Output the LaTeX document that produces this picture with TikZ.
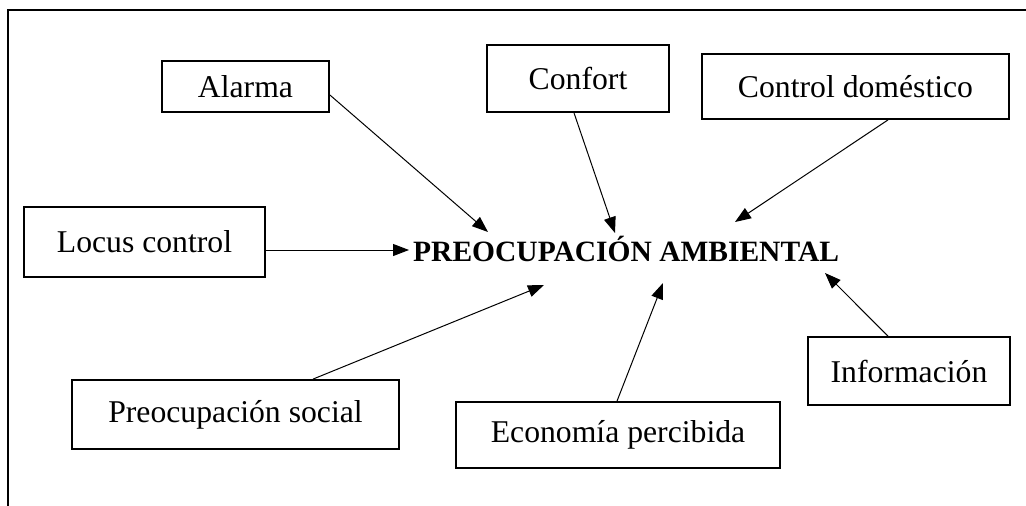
\documentclass[tikz,border=0pt]{standalone}
\usepackage{fontspec}
\setmainfont{Liberation Serif}
\usetikzlibrary{arrows.meta}
\begin{document}
\begin{tikzpicture}[x=1pt,y=-1pt,
  box/.style={draw=black,line width=1.8pt,inner sep=0pt,font=\fontsize{31.7}{38}\selectfont},
  conn/.style={line width=1pt,-{Triangle[length=16pt,width=12pt]}},
  frame/.style={line width=2pt}]
\useasboundingbox (0,0) rectangle (1026,506);
\draw[frame] (8,506) -- (8,10) -- (1026,10);
\node[box,minimum width=167pt,minimum height=51pt] (alarma) at (245.5,86.5) {Alarma};
\node[box,minimum width=182pt,minimum height=67pt] (confort) at (578,78.5) {Confort};
\node[box,minimum width=307pt,minimum height=65pt] (domestico) at (855.5,86.5) {Control doméstico};
\node[box,minimum width=241pt,minimum height=70pt] (locus) at (144.5,242) {Locus control};
\node[box,minimum width=327pt,minimum height=69pt] (social) at (235.5,414.5) {Preocupación social};
\node[box,minimum width=324pt,minimum height=66pt] (economia) at (618,435) {Economía percibida};
\node[box,minimum width=202pt,minimum height=68pt] (informacion) at (909,371) {Información};
\node[anchor=base west,inner sep=0pt,font=\fontsize{29.5}{35}\selectfont\bfseries] (central) at (413,261) {PREOCUPACIÓN AMBIENTAL};
\coordinate (tA) at (488,232);
\coordinate (tC) at (615,233);
\coordinate (tD) at (735,222);
\coordinate (tL) at (409,250);
\coordinate (tS) at (544,285);
\coordinate (tE) at (663,283);
\coordinate (tI) at (825,273);
\draw[conn] ([yshift=-8.5pt]alarma.east) -- (tA);
\draw[conn] ([xshift=-4pt]confort.south) -- (tC);
\draw[conn] ([xshift=32.5pt]domestico.south) -- (tD);
\draw[conn] ([yshift=-8pt]locus.east) -- (tL);
\draw[conn] ([xshift=77.5pt]social.north) -- (tS);
\draw[conn] ([xshift=-1pt]economia.north) -- (tE);
\draw[conn] ([xshift=-21pt]informacion.north) -- (tI);
\end{tikzpicture}
\end{document}
